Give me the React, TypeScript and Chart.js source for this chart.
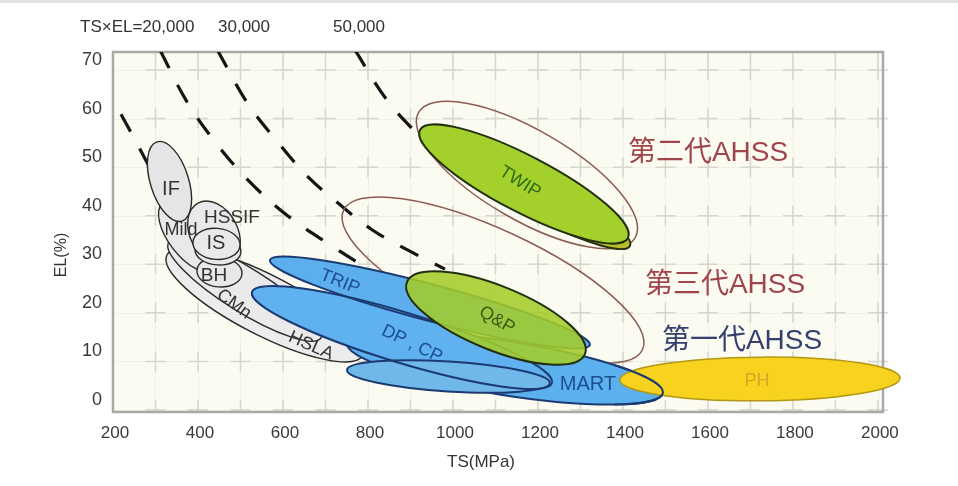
import React, { useEffect, useRef } from "react";
import { Chart, registerables } from "chart.js";

Chart.register(...registerables);

// ---------- axes ----------
const X_TICKS = [200, 400, 600, 800, 1000, 1200, 1400, 1600, 1800, 2000];
const Y_TICKS = [0, 10, 20, 30, 40, 50, 60, 70];
const GRID_TS = [300, 400, 500, 600, 700, 800, 900, 1000, 1100, 1200, 1300, 1400, 1500, 1600, 1700, 1800, 1900, 2000];
const GRID_EL = [0, 10, 20, 30, 40, 50, 60, 70];

// ---------- iso TS×EL dashed curves ([TS, EL]) ----------
const ISO_LABELS = ["TS×EL=20,000", "30,000", "50,000"];
const ISO_A = [[218.8, 60.9], [251.8, 55.6], [287, 49.8]];
const ISO_B = [[310.6, 74.1], [371.8, 63.8], [440, 55.2], [522.4, 46.9], [609.4, 40.1], [710.6, 34.0], [811.8, 28.4]];
const ISO_C = [[445, 74.2], [517.6, 63.0], [592.9, 54.6], [658.8, 48.0], [729.4, 42.6], [809.4, 37.1], [891.8, 33.0], [981.2, 29.0]];
const ISO_D = [[768, 74.3], [844.7, 63.8], [922.4, 56.2]];

// ---------- regions: major-axis tips [TS1, EL1, TS2, EL2] and minor/major ratio ----------
const GEN_NAMES = ["第三代AHSS", "第二代AHSS"];
const GEN_TIPS = [[742.4, 41.1, 1446, 12.4], [919.3, 61.25, 1429, 35.5]];
const GEN_RATIO = [0.303, 0.36];

const MILD_NAMES = ["HSLA", "CMn", "Mild", "HSSIF", "BH", "IS-b", "IS", "IF"];
const MILD_TIPS = [
  [327, 31.9, 788, 11.3],
  [331, 34.5, 690, 14.9],
  [317.6, 42.6, 440, 28.8],
  [400, 42.6, 475.3, 30.3],
  [397.6, 28.8, 503.5, 28.0],
  [393, 33.1, 501, 32.5],
  [388.2, 34.6, 498.8, 33.8],
  [303.5, 55.2, 362.4, 38.9],
];
const MILD_RATIO = [0.273, 0.244, 0.47, 0.7, 0.66, 0.62, 0.66, 0.46];

const MART_TIPS = [750.6, 13.8, 1494, 3.5];
const MART_RATIO = 0.169;

const BLUE_NAMES = ["TRIP", "DP, CP", "DP-low"];
const BLUE_TIPS = [
  [569.4, 30.88, 1322.4, 13.38],
  [527, 24.3, 1233, 5.56],
  [750.6, 8.24, 1228, 5.56],
];
const BLUE_RATIO = [0.11, 0.16, 0.147];

const PH_TIPS = [1393, 6.18, 2052, 6.59];
const PH_RATIO = 0.156;

const GREEN_NAMES = ["TWIP-b", "TWIP", "Q&P"];
const GREEN_TIPS = [
  [1040, 50.44, 1416.5, 33.77],
  [922.4, 57.65, 1411.8, 35.4],
  [891.8, 26.35, 1310.6, 11.5],
];
const GREEN_RATIO = [0.2, 0.24, 0.333];

// ---------- region labels ----------
const LABEL_TEXT = ["IF", "Mild", "HSSIF", "IS", "BH", "CMn", "HSLA", "TRIP", "DP , CP", "Q&P", "TWIP", "MART", "PH"];
const LABEL_TS = [336.5, 360, 480, 442.4, 437.6, 484.7, 665.9, 734, 903.5, 1103.5, 1157.6, 1317.6, 1715.3];
const LABEL_EL = [45.3, 37.06, 39.5, 34.2, 27.6, 21.8, 13.2, 26.35, 13.6, 18.5, 46.9, 5.35, 5.97];

const GEN_LABELS = ["第二代AHSS", "第三代AHSS", "第一代AHSS"];
const GEN_LABEL_TS = [1411.8, 1451.8, 1491.8];
const GEN_LABEL_EL = [52.9, 25.7, 14.2];

// ---------- styles ----------
const FONT = '"Liberation Sans", Arial, "Noto Sans CJK SC", sans-serif';
const LABEL_SIZE = [20, 18, 19, 20, 19, 18, 18, 18, 18, 18, 18, 20, 18];
const LABEL_COLOR = ["#333", "#333", "#333", "#333", "#333", "#333", "#333", "#1d4f8f", "#1d4f8f", "#3d5a12", "#2f6a12", "#1d4f8f", "#d9a526"];
const LABEL_ROT = [0, 0, 0, 0, 0, 36, 24, 22, 26, 30, 32, 0, 0];
const MILD_FILL = ["#ececec", "#eaeaea", "#e9e9e9", "#e9e9e9", "#e8e8e8", "#e8e8e8", "#e9e9e9", "#e5e5e5"];
const MART_FILL = "#5db0ee";
const BLUE_FILL = ["#5caeec", "#5fb1ef", "#70b7ea"];
const BLUE_STROKE = "#1b3a72";
const GREEN_FILL = ["#b6bd2a", "#a3d02b", "rgba(164,204,42,0.88)"];
const GEN_LABEL_COLOR = ["#a0464b", "#a0464b", "#34406e"];

function ellipsePath(ctx: CanvasRenderingContext2D, xs: any, ys: any, t: number[], ratio: number) {
  const x1 = xs.getPixelForValue(t[0]);
  const y1 = ys.getPixelForValue(t[1]);
  const x2 = xs.getPixelForValue(t[2]);
  const y2 = ys.getPixelForValue(t[3]);
  const cx = (x1 + x2) / 2;
  const cy = (y1 + y2) / 2;
  const a = Math.hypot(x2 - x1, y2 - y1) / 2;
  const ang = Math.atan2(y2 - y1, x2 - x1);
  ctx.beginPath();
  ctx.ellipse(cx, cy, a, a * ratio, ang, 0, Math.PI * 2);
  ctx.closePath();
}

function drawText(ctx: CanvasRenderingContext2D, text: string, px: number, py: number, size: number, color: string, rot: number, align: CanvasTextAlign = "center") {
  ctx.save();
  ctx.translate(px, py);
  ctx.rotate((rot * Math.PI) / 180);
  ctx.font = `${size}px ${FONT}`;
  ctx.fillStyle = color;
  ctx.textAlign = align;
  ctx.textBaseline = "middle";
  ctx.fillText(text, 0, 0);
  ctx.restore();
}

const bananaPlugin = {
  id: "banana",
  beforeDatasetsDraw(chart: any) {
    const { ctx, chartArea: ca, scales } = chart;
    const xs = scales.x;
    const ys = scales.y;
    ctx.save();
    ctx.fillStyle = "#fcfbf1";
    ctx.fillRect(ca.left, ca.top, ca.right - ca.left, ca.bottom - ca.top);
    ctx.strokeStyle = "#f1f0e6";
    ctx.lineWidth = 1;
    GRID_TS.forEach((v) => {
      const px = Math.round(xs.getPixelForValue(v)) + 0.5;
      ctx.beginPath();
      ctx.moveTo(px, ca.top);
      ctx.lineTo(px, ca.bottom);
      ctx.stroke();
    });
    GRID_EL.forEach((v) => {
      const py = Math.round(ys.getPixelForValue(v)) + 0.5;
      ctx.beginPath();
      ctx.moveTo(ca.left, py);
      ctx.lineTo(ca.right, py);
      ctx.stroke();
    });
    ctx.strokeStyle = "#d6d6cc";
    ctx.lineWidth = 1.5;
    const arm = 10;
    GRID_TS.forEach((vx) => {
      const px = xs.getPixelForValue(vx);
      GRID_EL.forEach((vy) => {
        const py = ys.getPixelForValue(vy);
        ctx.beginPath();
        ctx.moveTo(px - arm, py);
        ctx.lineTo(px + arm, py);
        ctx.moveTo(px, Math.max(ca.top, py - arm));
        ctx.lineTo(px, Math.min(ca.bottom, py + arm));
        ctx.stroke();
      });
      ctx.beginPath();
      ctx.moveTo(px, ca.top);
      ctx.lineTo(px, ca.top + 8);
      ctx.stroke();
    });
    ctx.strokeStyle = "#a9a9a9";
    ctx.lineWidth = 2.5;
    ctx.strokeRect(ca.left, ca.top, ca.right - ca.left, ca.bottom - ca.top);
    ctx.restore();
  },
  afterDatasetsDraw(chart: any) {
    const { ctx, scales, chartArea: ca } = chart;
    const xs = scales.x;
    const ys = scales.y;
    ctx.save();
    GEN_TIPS.forEach((t, i) => {
      ellipsePath(ctx, xs, ys, t, GEN_RATIO[i]);
      ctx.strokeStyle = "#8a5c52";
      ctx.lineWidth = 1.5;
      ctx.stroke();
    });
    MILD_TIPS.forEach((t, i) => {
      ellipsePath(ctx, xs, ys, t, MILD_RATIO[i]);
      ctx.fillStyle = MILD_FILL[i];
      ctx.fill();
      ctx.strokeStyle = "#2b2b2b";
      ctx.lineWidth = 1.4;
      ctx.stroke();
    });
    // MART lies behind the other first-generation regions
    ellipsePath(ctx, xs, ys, MART_TIPS, MART_RATIO);
    ctx.fillStyle = MART_FILL;
    ctx.fill();
    ctx.strokeStyle = BLUE_STROKE;
    ctx.lineWidth = 2;
    ctx.stroke();
    BLUE_TIPS.forEach((t, i) => {
      ellipsePath(ctx, xs, ys, t, BLUE_RATIO[i]);
      ctx.fillStyle = BLUE_FILL[i];
      ctx.fill();
    });
    BLUE_TIPS.forEach((t, i) => {
      ellipsePath(ctx, xs, ys, t, BLUE_RATIO[i]);
      ctx.strokeStyle = BLUE_STROKE;
      ctx.lineWidth = 2;
      ctx.stroke();
    });
    ellipsePath(ctx, xs, ys, PH_TIPS, PH_RATIO);
    ctx.fillStyle = "#f7d21f";
    ctx.fill();
    ctx.strokeStyle = "#b39812";
    ctx.lineWidth = 1.5;
    ctx.stroke();
    // MART's right end stays visible over PH
    ctx.save();
    const cut = xs.getPixelForValue(1380);
    ctx.beginPath();
    ctx.rect(cut, ca.top, ca.right - cut, ca.bottom - ca.top + 10);
    ctx.clip();
    ellipsePath(ctx, xs, ys, MART_TIPS, MART_RATIO);
    ctx.strokeStyle = BLUE_STROKE;
    ctx.lineWidth = 2;
    ctx.stroke();
    ctx.restore();
    GREEN_TIPS.forEach((t, i) => {
      ellipsePath(ctx, xs, ys, t, GREEN_RATIO[i]);
      ctx.fillStyle = GREEN_FILL[i];
      ctx.fill();
      ctx.strokeStyle = "#22300e";
      ctx.lineWidth = 2;
      ctx.stroke();
    });
    LABEL_TEXT.forEach((txt, i) => {
      drawText(ctx, txt, xs.getPixelForValue(LABEL_TS[i]), ys.getPixelForValue(LABEL_EL[i]), LABEL_SIZE[i], LABEL_COLOR[i], LABEL_ROT[i]);
    });
    GEN_LABELS.forEach((txt, i) => {
      drawText(ctx, txt, xs.getPixelForValue(GEN_LABEL_TS[i]), ys.getPixelForValue(GEN_LABEL_EL[i]), 28, GEN_LABEL_COLOR[i], 0, "left");
    });
    ctx.restore();
  },
  afterDraw(chart: any) {
    const { ctx } = chart;
    ctx.save();
    const isoX = [72, 210, 325];
    ISO_LABELS.forEach((txt, i) => drawText(ctx, txt, isoX[i], 19, 17, "#333", 0, "left"));
    drawText(ctx, "TS(MPa)", 473, 454, 17, "#333", 0);
    drawText(ctx, "EL(%)", 54, 247, 16, "#333", -90);
    ctx.restore();
  },
};

const dashed = (pts: number[][]) => ({
  data: pts.map(([x, y]) => ({ x, y })),
  showLine: true,
  borderColor: "#151515",
  borderWidth: 3.2,
  borderDash: [20, 19],
  borderCapStyle: "butt",
  pointRadius: 0,
  pointHoverRadius: 0,
  tension: 0.35,
  fill: false,
});

export default function App() {
  const ref = useRef<HTMLCanvasElement>(null);
  useEffect(() => {
    const chart = new Chart(ref.current as HTMLCanvasElement, {
      type: "scatter",
      data: { datasets: [dashed(ISO_A), dashed(ISO_B), dashed(ISO_C), dashed(ISO_D)] as any },
      options: {
        animation: false,
        responsive: true,
        maintainAspectRatio: false,
        events: [],
        layout: { padding: { left: 0, right: 67, top: 44, bottom: 0 } },
        plugins: { legend: { display: false }, tooltip: { enabled: false } },
        scales: {
          x: {
            type: "linear",
            min: 200,
            max: 2012,
            grid: { display: false, drawTicks: false },
            border: { display: false },
            afterBuildTicks: (s: any) => {
              s.ticks = X_TICKS.map((v) => ({ value: v }));
            },
            afterFit: (s: any) => {
              s.height = 66;
            },
            ticks: {
              autoSkip: false,
              maxRotation: 0,
              padding: 11,
              labelOffset: 2,
              color: "#3a3a3a",
              font: { family: FONT, size: 17 },
              callback: (v: any) => String(v),
            },
          },
          y: {
            type: "linear",
            min: -0.41,
            max: 73.7,
            grid: { display: false, drawTicks: false },
            border: { display: false },
            afterBuildTicks: (s: any) => {
              s.ticks = Y_TICKS.map((v) => ({ value: v }));
            },
            afterFit: (s: any) => {
              s.width = 105;
            },
            ticks: {
              autoSkip: false,
              padding: 11,
              labelOffset: -10,
              color: "#3a3a3a",
              font: { family: FONT, size: 18 },
              callback: (v: any) => String(v),
            },
          },
        },
      } as any,
      plugins: [bananaPlugin],
    });
    return () => chart.destroy();
  }, []);
  return (
    <>
      <div style={{ position: "fixed", top: 0, left: 0, right: 0, height: 3, background: "#e3e3e3" }} />
      <div style={{ width: 942, height: 470, position: "relative" }}>
        <canvas ref={ref} />
      </div>
    </>
  );
}
